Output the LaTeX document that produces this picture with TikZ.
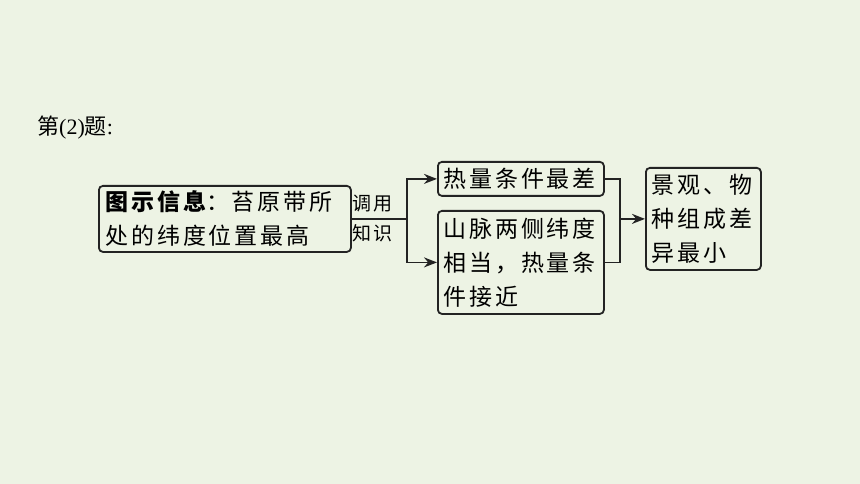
\documentclass[tikz,border=0pt]{standalone}
\usepackage{fontspec}
\setmainfont{Liberation Serif}
\newfontfamily\cjk[LetterSpace=12]{Noto Sans CJK SC}
\newfontfamily\cjkplain{Noto Sans CJK SC}
\usetikzlibrary{arrows.meta}
\definecolor{bgpaper}{RGB}{237,243,228}
\definecolor{inkline}{RGB}{35,35,35}

\tikzset{
  infobox/.style={draw=inkline, line width=1.8pt, rounded corners=4pt,
    anchor=north west, inner xsep=6pt, inner ysep=0pt, align=left,
    font=\cjk\fontsize{23}{34}\selectfont},
  tiplabel/.style={inner sep=0pt, font=\cjk\fontsize{19}{20}\selectfont},
  link/.style={draw=inkline, line width=1.8pt}
}

\begin{document}
\begin{tikzpicture}[x=1pt,y=-1pt,>={Stealth[length=13pt,width=10pt]}]
  \fill[bgpaper] (0,0) rectangle (860,484);
  \useasboundingbox (0,0) rectangle (860,484);

  % title
  \node[anchor=west, inner sep=0pt] (title) at (37,128)
    {\fontsize{22}{24}\selectfont\cjkplain 第\rmfamily(2)\cjkplain 题\rmfamily:};

  % boxes
  \node[infobox, text width=238pt, minimum height=66pt, inner xsep=7pt] (info) at (98,185)
    {{\bfseries 图示信息}：苔原带所\\处的纬度位置最高};
  \node[infobox, text width=154pt, minimum height=34pt] (heat) at (437,161)
    {热量条件最差};
  \node[infobox, text width=154pt, minimum height=103pt] (range) at (437,210)
    {山脉两侧纬度\\相当，热量条\\件接近};
  \node[infobox, text width=103pt, minimum height=102pt] (land) at (645,167)
    {景观、物\\种组成差\\异最小};

  % labels on the split
  \node[tiplabel, anchor=west] (call) at (352,204) {调用};
  \node[tiplabel, anchor=west] (know) at (352,233) {知识};

  % joints
  \path (info.east) ++(55,0) coordinate (split);
  \path (land.west) ++(-25,0) coordinate (merge);

  \draw[link] (info.east) -- (split);
  \draw[link, ->] (split) |- (heat.west);
  \draw[link, ->] (split) |- (range.west);
  \draw[link] (heat.east) -| (merge);
  \draw[link] (range.east) -| (merge);
  \draw[link, ->] (merge) -- (land.west);
\end{tikzpicture}
\end{document}
